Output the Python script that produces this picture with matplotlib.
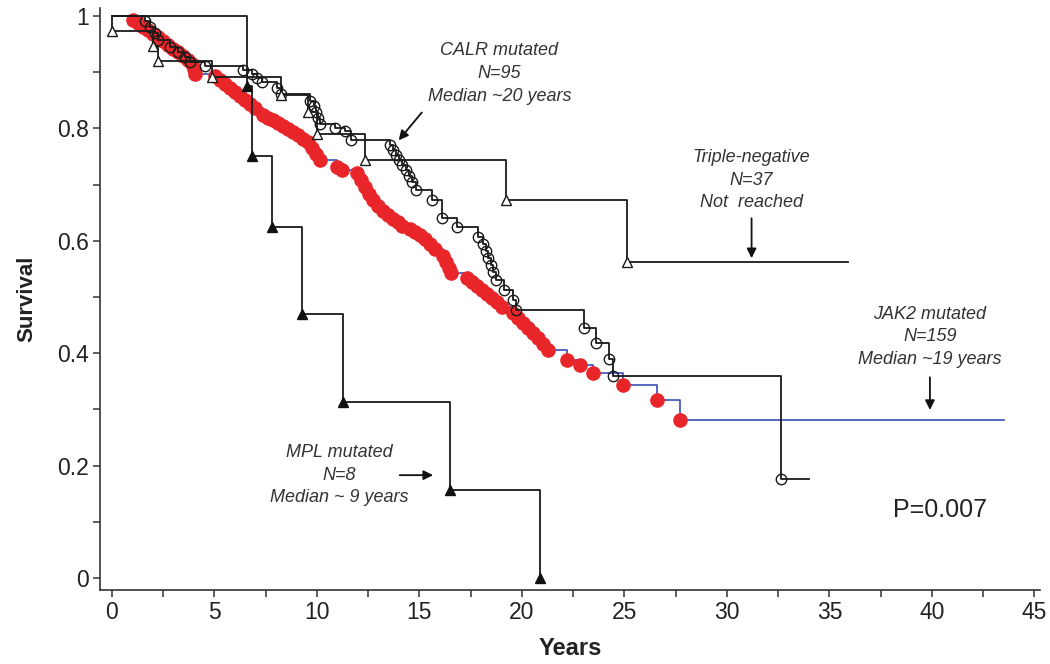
import matplotlib
matplotlib.use('Agg')
import matplotlib.pyplot as plt
from matplotlib.ticker import MultipleLocator, FixedLocator

plt.rcParams['font.family'] = ['Liberation Sans', 'DejaVu Sans']

# JAK2 mutated (N=159): event times and survival (red dots)
jak2_t = [1.02, 1.27, 1.51, 1.76, 2.00, 2.24, 2.49, 2.73, 2.98, 3.22, 3.46, 3.71, 3.90, 4.00, 4.05,
          5.02, 5.27, 5.51, 5.76, 6.00, 6.24, 6.49, 6.73, 6.98,
          7.37, 7.61, 7.85, 8.10, 8.34, 8.59, 8.83, 9.07, 9.32,
          9.56, 9.76, 9.95, 10.15, 10.98, 11.22,
          11.95, 12.15, 12.34, 12.54, 12.73, 12.98, 13.22, 13.46, 13.71, 13.95, 14.15,
          14.54, 14.78, 15.02, 15.27, 15.51, 15.76, 16.15, 16.29, 16.44, 16.54,
          17.32, 17.56, 17.80, 18.05, 18.29, 18.54, 18.78, 19.02,
          19.56, 19.80, 20.05, 20.29, 20.54, 20.78, 21.02, 21.27,
          22.20, 22.83, 23.46, 24.93, 26.59, 27.71]
jak2_s = [0.993, 0.988, 0.980, 0.975, 0.968, 0.963, 0.956, 0.948, 0.941, 0.936, 0.929, 0.922, 0.915, 0.906, 0.897,
          0.893, 0.886, 0.879, 0.872, 0.865, 0.858, 0.851, 0.843, 0.836,
          0.824, 0.819, 0.815, 0.810, 0.804, 0.799, 0.794, 0.788, 0.781,
          0.776, 0.765, 0.754, 0.744, 0.731, 0.726,
          0.721, 0.708, 0.696, 0.683, 0.673, 0.662, 0.653, 0.646, 0.639, 0.633, 0.626,
          0.621, 0.616, 0.610, 0.603, 0.594, 0.585, 0.573, 0.562, 0.552, 0.543,
          0.534, 0.527, 0.520, 0.512, 0.505, 0.498, 0.491, 0.482,
          0.472, 0.463, 0.454, 0.445, 0.436, 0.427, 0.416, 0.406,
          0.388, 0.379, 0.365, 0.343, 0.317, 0.281]
jak2_end = 43.5

# CALR mutated (N=95): open circles
calr_t = [1.61, 1.85, 2.10, 2.24, 2.83, 3.22, 3.56, 3.80, 4.54, 6.39, 6.83, 7.07, 7.32, 8.05, 8.24,
          9.66, 9.85, 9.95, 10.05, 10.15, 10.88, 11.37, 11.66,
          13.56, 13.71, 13.85, 14.00, 14.15, 14.34, 14.49, 14.63, 14.83, 15.61, 16.10, 16.83,
          17.85, 18.10, 18.24, 18.34, 18.49, 18.59, 18.73, 19.12, 19.56, 19.71,
          23.02, 23.61, 24.24, 24.44, 32.63]
calr_s = [0.991, 0.980, 0.970, 0.957, 0.945, 0.936, 0.927, 0.918, 0.911, 0.904, 0.897, 0.890, 0.883, 0.872, 0.861,
          0.849, 0.840, 0.829, 0.819, 0.808, 0.801, 0.795, 0.779,
          0.770, 0.762, 0.753, 0.744, 0.735, 0.726, 0.715, 0.705, 0.690, 0.673, 0.641, 0.625,
          0.607, 0.594, 0.582, 0.569, 0.557, 0.544, 0.530, 0.512, 0.495, 0.477,
          0.445, 0.418, 0.390, 0.359, 0.176]
calr_end = 34.0

# Triple-negative (N=37): open triangles
tn_t = [0.0, 2.00, 2.24, 4.88, 8.24, 9.56, 10.00, 12.34, 19.20, 25.10]
tn_s = [0.973, 0.946, 0.919, 0.892, 0.859, 0.829, 0.790, 0.744, 0.673, 0.562]
tn_end = 35.9

# MPL mutated (N=8): filled triangles
mpl_t = [6.59, 6.83, 7.80, 9.27, 11.27, 16.49, 20.88]
mpl_s = [0.875, 0.750, 0.625, 0.469, 0.3125, 0.156, 0.0]

x_ticks = [0, 5, 10, 15, 20, 25, 30, 35, 40, 45]
y_ticks = [0, 0.2, 0.4, 0.6, 0.8, 1.0]
y_tick_labels = ['0', '0.2', '0.4', '0.6', '0.8', '1']


def step_xy(times, surv, end=None):
    xs = [0.0] + list(times)
    ys = [1.0] + list(surv)
    if end is not None:
        xs.append(end)
        ys.append(surv[-1])
    return xs, ys


fig = plt.figure(figsize=(10.5, 6.64), dpi=100)
ax = fig.add_axes([0.0952, 0.1114, 0.8953, 0.8766])

# JAK2: blue line + red dots
xs, ys = step_xy(jak2_t, jak2_s, jak2_end)
ax.step(xs, ys, where='post', color='#3a4fb5', lw=1.2, zorder=2)
ax.plot(jak2_t, jak2_s, 'o', ms=9.5, color='#e8262a', mec='#e8262a', zorder=3)

# CALR
xs, ys = step_xy(calr_t, calr_s, calr_end)
ax.step(xs, ys, where='post', color='#1a1a1a', lw=1.3, zorder=4)
ax.plot(calr_t, calr_s, 'o', ms=7.5, mfc='none', mec='#1a1a1a', mew=1.0, zorder=5)

# Triple-negative
xs, ys = step_xy(tn_t, tn_s, tn_end)
ax.step(xs, ys, where='post', color='#1a1a1a', lw=1.3, zorder=4)
ax.plot(tn_t, tn_s, '^', ms=7.5, mfc='white', mec='#1a1a1a', mew=1.0, zorder=5)

# MPL
xs, ys = step_xy(mpl_t, mpl_s)
ax.step(xs, ys, where='post', color='#1a1a1a', lw=1.3, zorder=4)
ax.plot(mpl_t, mpl_s, '^', ms=7.5, color='#111111', zorder=5)

ax.set_xlim(-0.585, 45.27)
ax.set_ylim(-0.0214, 1.0142)
ax.spines['top'].set_visible(False)
ax.spines['right'].set_visible(False)
for s in ['left', 'bottom']:
    ax.spines[s].set_linewidth(1.2)
    ax.spines[s].set_color('#333333')

ax.xaxis.set_major_locator(FixedLocator(x_ticks))
ax.xaxis.set_minor_locator(MultipleLocator(2.5))
ax.yaxis.set_major_locator(FixedLocator(y_ticks))
ax.yaxis.set_minor_locator(MultipleLocator(0.1))
ax.set_yticklabels(y_tick_labels)
ax.tick_params(which='both', length=5, width=1.1, color='#333333', direction='out')
ax.tick_params(axis='both', labelsize=16.5, labelcolor='#222222', pad=3)

ax.set_xlabel('Years', fontsize=17, fontweight='bold', color='#222222', labelpad=9)
ax.set_ylabel('Survival', fontsize=16, fontweight='bold', color='#222222', labelpad=14)

txt_kw = dict(fontsize=13, style='italic', color='#333333', ha='center', va='center', linespacing=1.45)
arrow_kw = dict(arrowstyle='-|>', color='#111111', lw=1.3, mutation_scale=14)

ax.text(18.9, 0.897, 'CALR mutated\nN=95\nMedian ~20 years', **txt_kw)
ax.annotate('', xy=(13.9, 0.775), xytext=(15.2, 0.832), arrowprops=arrow_kw)

ax.text(31.2, 0.708, 'Triple-negative\nN=37\nNot  reached', **txt_kw)
ax.annotate('', xy=(31.2, 0.564), xytext=(31.2, 0.645), arrowprops=arrow_kw)

ax.text(39.9, 0.429, 'JAK2 mutated\nN=159\nMedian ~19 years', **txt_kw)
ax.annotate('', xy=(39.9, 0.294), xytext=(39.9, 0.362), arrowprops=arrow_kw)

ax.text(11.1, 0.183, 'MPL mutated\nN=8\nMedian ~ 9 years', **txt_kw)
ax.annotate('', xy=(15.8, 0.183), xytext=(13.9, 0.183), arrowprops=arrow_kw)

ax.text(40.4, 0.121, 'P=0.007', fontsize=18, color='#222222', ha='center', va='center')

fig.savefig('out.png', dpi=100)
